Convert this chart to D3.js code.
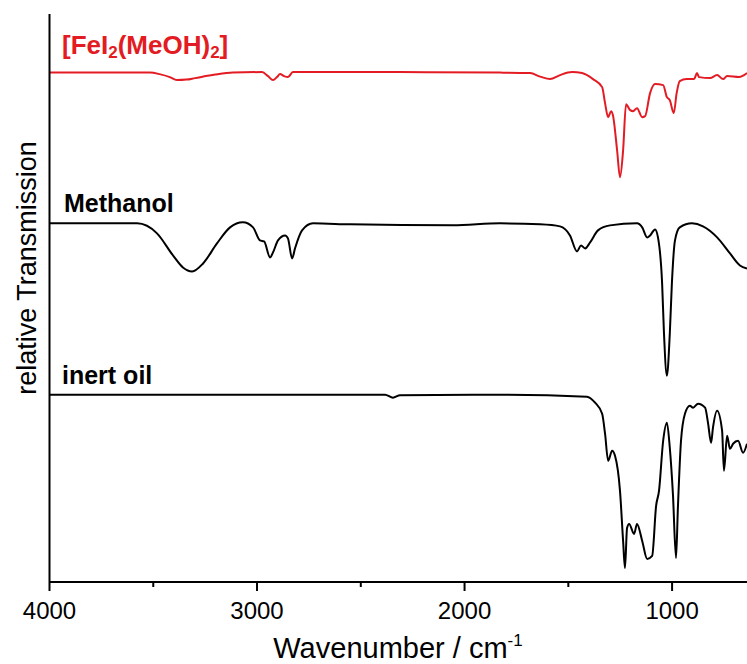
<!DOCTYPE html>
<html>
<head>
<meta charset="utf-8">
<script src="https://cdn.jsdelivr.net/npm/d3@7"></script>
<style>
  body { margin: 0; background: #fff; }
  svg { display: block; font-family: "Liberation Sans", Arial, sans-serif; }
</style>
</head>
<body>
<div id="chart"></div>
<script>
// IR spectra, wavenumber in cm-1, relative transmission (stacked, arbitrary units)
const feWn = [4000, 3516, 3470, 3420, 3386, 3340, 3299, 3202, 3116, 2976, 2947, 2923, 2904, 2889, 2870, 2851, 2827, 2311, 1829, 1684, 1636, 1588, 1540, 1482, 1434, 1381, 1337, 1323, 1308, 1294, 1285, 1265, 1251, 1236, 1222, 1202, 1188, 1169, 1144, 1130, 1106, 1082, 1043, 1025, 1011, 992, 978, 963, 930, 894, 880, 870, 817, 783, 754, 735, 677, 639];
const feT = [5.085, 5.085, 5.07, 5.04, 5.01, 5.015, 5.03, 5.065, 5.085, 5.09, 5.05, 5.01, 5.04, 5.07, 5.05, 5.04, 5.09, 5.09, 5.085, 5.08, 5.045, 5.02, 5.06, 5.09, 5.08, 5.02, 4.94, 4.78, 4.64, 4.70, 4.66, 4.31, 4.04, 4.31, 4.77, 4.71, 4.70, 4.73, 4.64, 4.65, 4.88, 4.97, 4.96, 4.84, 4.81, 4.68, 4.88, 5.00, 5.02, 5.02, 5.08, 5.04, 5.03, 5.06, 5.02, 5.05, 5.04, 5.08];

const meWn = [4000, 3578, 3482, 3405, 3357, 3313, 3260, 3193, 3130, 3068, 3019, 2986, 2966, 2937, 2923, 2899, 2865, 2851, 2831, 2817, 2783, 2730, 2552, 2056, 1829, 1636, 1540, 1492, 1458, 1439, 1419, 1395, 1357, 1299, 1169, 1144, 1120, 1106, 1082, 1068, 1048, 1039, 1025, 1011, 1001, 986, 963, 904, 851, 783, 721, 673, 639];
const meT = [3.58, 3.58, 3.48, 3.26, 3.14, 3.10, 3.18, 3.38, 3.54, 3.59, 3.54, 3.41, 3.40, 3.24, 3.29, 3.41, 3.46, 3.43, 3.23, 3.33, 3.51, 3.58, 3.57, 3.56, 3.58, 3.57, 3.55, 3.46, 3.30, 3.36, 3.33, 3.39, 3.51, 3.56, 3.58, 3.54, 3.44, 3.46, 3.52, 3.44, 2.98, 2.48, 2.06, 2.48, 2.98, 3.41, 3.54, 3.58, 3.55, 3.44, 3.28, 3.16, 3.13];

const oilWn = [4000, 2793, 2383, 2345, 2311, 1829, 1410, 1371, 1337, 1323, 1308, 1289, 1275, 1251, 1236, 1227, 1217, 1207, 1183, 1169, 1144, 1120, 1096, 1077, 1063, 1043, 1025, 1011, 996, 981, 972, 957, 938, 914, 899, 875, 841, 827, 812, 803, 783, 759, 750, 735, 721, 706, 682, 658, 639];
const oilT = [1.87, 1.87, 1.87, 1.84, 1.865, 1.87, 1.85, 1.79, 1.68, 1.48, 1.21, 1.31, 1.26, 0.91, 0.41, 0.14, 0.54, 0.58, 0.48, 0.58, 0.41, 0.23, 0.26, 0.76, 0.91, 1.41, 1.59, 1.34, 0.88, 0.24, 0.74, 1.41, 1.68, 1.76, 1.74, 1.78, 1.74, 1.59, 1.39, 1.54, 1.71, 1.51, 1.11, 1.46, 1.33, 1.38, 1.41, 1.29, 1.38];

const majorTicks = [4000, 3000, 2000, 1000];
const minorTicks = [3500, 2500, 1500];

const width = 747, height = 664;
const margin = {left: 49.5, right: 0, top: 14, bottom: 82};

const svg = d3.select("#chart").append("svg")
    .attr("width", width)
    .attr("height", height);

const x = d3.scaleLinear()
    .domain([4000, 639])
    .range([margin.left, width - margin.right]);

const y = d3.scaleLinear()
    .domain([0, 5.67])
    .range([height - margin.bottom, margin.top]);

const line = d3.line()
    .x(d => x(d[0]))
    .y(d => y(d[1]))
    .curve(d3.curveMonotoneX);

const series = [
    {wn: feWn, t: feT, color: "#e31b23"},
    {wn: meWn, t: meT, color: "#000"},
    {wn: oilWn, t: oilT, color: "#000"}
];

series.forEach(s => {
    svg.append("path")
        .datum(d3.zip(s.wn, s.t))
        .attr("fill", "none")
        .attr("stroke", s.color)
        .attr("stroke-width", 2)
        .attr("stroke-linejoin", "round")
        .attr("d", line);
});

// axes
const x0 = height - margin.bottom;
svg.append("line")
    .attr("x1", margin.left).attr("x2", width)
    .attr("y1", x0).attr("y2", x0)
    .attr("stroke", "#000").attr("stroke-width", 2);
svg.append("line")
    .attr("x1", margin.left).attr("x2", margin.left)
    .attr("y1", margin.top).attr("y2", x0)
    .attr("stroke", "#000").attr("stroke-width", 2);

svg.selectAll(".major")
    .data(majorTicks)
    .join("line")
    .attr("x1", d => x(d)).attr("x2", d => x(d))
    .attr("y1", x0).attr("y2", x0 + 9)
    .attr("stroke", "#000").attr("stroke-width", 2);

svg.selectAll(".minor")
    .data(minorTicks)
    .join("line")
    .attr("x1", d => x(d)).attr("x2", d => x(d))
    .attr("y1", x0).attr("y2", x0 + 5)
    .attr("stroke", "#000").attr("stroke-width", 2);

svg.selectAll(".ticklabel")
    .data(majorTicks)
    .join("text")
    .attr("x", d => x(d))
    .attr("y", 619)
    .attr("text-anchor", "middle")
    .attr("font-size", 24)
    .text(d => d);

// axis titles
const xt = svg.append("text")
    .attr("x", 398)
    .attr("y", 658)
    .attr("text-anchor", "middle")
    .attr("font-size", 29);
xt.append("tspan").text("Wavenumber / cm");
xt.append("tspan").attr("font-size", 17).attr("dy", -12).text("-1");

svg.append("text")
    .attr("transform", "translate(36,268) rotate(-90)")
    .attr("text-anchor", "middle")
    .attr("font-size", 27)
    .text("relative Transmission");

// spectrum labels
const fe = svg.append("text")
    .attr("x", 62).attr("y", 54)
    .attr("font-size", 26)
    .attr("font-weight", "bold")
    .attr("fill", "#e31b23");
fe.append("tspan").text("[FeI");
fe.append("tspan").attr("font-size", 17).attr("dy", 4).text("2");
fe.append("tspan").attr("dy", -4).text("(MeOH)");
fe.append("tspan").attr("font-size", 17).attr("dy", 4).text("2");
fe.append("tspan").attr("dy", -4).text("]");

svg.append("text")
    .attr("x", 64).attr("y", 212)
    .attr("font-size", 25)
    .attr("font-weight", "bold")
    .text("Methanol");

svg.append("text")
    .attr("x", 62).attr("y", 384)
    .attr("font-size", 25)
    .attr("font-weight", "bold")
    .text("inert oil");
</script>
</body>
</html>
